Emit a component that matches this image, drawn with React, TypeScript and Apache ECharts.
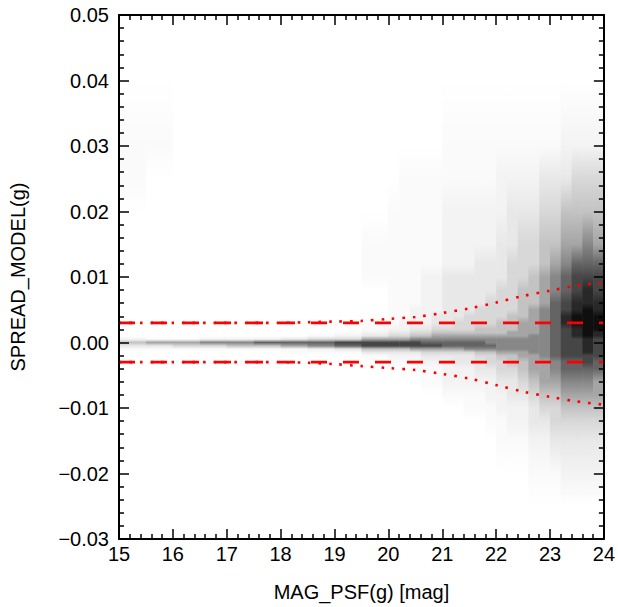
import React, { useEffect, useRef } from "react";
import * as echarts from "echarts";

// ---- data ----
// magnitude bin edges of the density columns
const MAG_EDGES = [
  15.0, 15.5, 16.0, 16.5, 17.0, 17.5, 18.0, 18.5, 19.0, 19.5, 20.0, 20.2, 20.4,
  20.6, 20.8, 21.0, 21.2, 21.4, 21.6, 21.8, 22.0, 22.2, 22.4, 22.6, 22.8, 23.0,
  23.2, 23.4, 23.6, 23.8, 24.0,
];

// SPREAD_MODEL nodes at which each column's density is sampled
const SPREAD_NODES = [
  -0.03, -0.025, -0.02, -0.015, -0.012, -0.01, -0.008, -0.006,
  -0.004, -0.003, -0.002, -0.0015, -0.001, -0.0005,
  0,
  0.0005, 0.001, 0.0015, 0.002, 0.003, 0.004, 0.005, 0.006,
  0.008, 0.01, 0.012, 0.015, 0.02, 0.025, 0.03, 0.04, 0.05,
];

// density level (0 = empty .. b = darkest) per column, one character per node
const DENSITY_COLUMNS = [
  "00000000 000013 5 20000000 000001100",
  "00000000 000013 6 10000000 000000100",
  "00000000 000014 6 10000000 000000000",
  "00000000 000014 7 20000000 000000000",
  "00000000 000015 7 20000000 000000000",
  "00000000 000015 8 20000000 000000000",
  "00000000 000116 8 30000000 000000000",
  "00000000 000127 8 41000000 000000000",
  "00000000 000138 9 42100000 000000000",
  "00000000 001359 9 63211000 011100000",
  "00000000 012359 9 64321111 111110000",
  "00000000 012359 9 64322111 111111000",
  "00000000 112369 9 75432221 111111000",
  "00000001 123469 8 75432222 221111000",
  "00000001 123469 8 76543322 221111000",
  "00000012 223468 8 76543333 332221100",
  "00000012 233468 8 76544333 332221100",
  "00000112 233478 8 76544433 332221100",
  "00000112 334578 8 76554443 333221100",
  "00001122 344578 7 76554444 333221100",
  "00011223 445677 7 76555444 433322100",
  "00012233 455677 7 76655544 444332100",
  "00012234 556677 7 76666555 544432100",
  "00123345 666777 7 77666665 554432100",
  "00123456 667777 7 77777776 665543100",
  "00134456 778888 8 88888888 776543100",
  "00234567 889999 9 9999aa99 887653200",
  "00234567 889999 9 9aaabbaa 998654200",
  "00234567 899aaa a abbbbbba a98754200",
  "00234566 889999 9 9aabbbaa 998654200",
];

// grey value for each density level 0..b
const GRAY_LEVELS = [255, 250, 243, 232, 216, 195, 165, 135, 100, 70, 40, 15];

// constant cut and magnitude-dependent envelope
const CUT_MAGS = [15, 24];
const CUT_VALUE = 0.003;
const CURVE_MAGS = [15, 16, 17, 18, 18.5, 19, 19.5, 20, 20.5, 21, 21.5, 22, 22.5, 23, 23.5, 24];
const CURVE_UPPER = [0.003, 0.003, 0.003, 0.003, 0.0031, 0.0032, 0.0033, 0.0036, 0.0039, 0.0045, 0.0052, 0.0061, 0.0071, 0.0079, 0.0087, 0.0091];
const CURVE_LOWER = [-0.003, -0.003, -0.003, -0.003, -0.0031, -0.0033, -0.0036, -0.0039, -0.0042, -0.0048, -0.0055, -0.0065, -0.0075, -0.0083, -0.009, -0.0095];

const X_MIN = 15, X_MAX = 24, X_STEP = 1;
const Y_MIN = -0.03, Y_MAX = 0.05, Y_STEP = 0.01;

const FONT = "'Liberation Sans', Arial, Helvetica, sans-serif";

function grayOf(d: number) {
  const g = GRAY_LEVELS[d];
  return `rgb(${g},${g},${g})`;
}

export default function App() {
  const ref = useRef<HTMLDivElement | null>(null);

  useEffect(() => {
    document.body.style.margin = "0";
    if (!ref.current) return;
    const chart = echarts.init(ref.current, undefined, { renderer: "svg" });

    const profiles = DENSITY_COLUMNS.map((s) =>
      s.replace(/\s+/g, "").split("").map((c) => parseInt(c, 16))
    );
    const columnData = profiles.map((_, i) => [MAG_EDGES[i], MAG_EDGES[i + 1], i]);

    const axisLine = { show: true, onZero: false, lineStyle: { color: "#000", width: 2 } };
    const axisTick = { show: true, inside: true, length: 10, lineStyle: { color: "#000", width: 1.5 } };
    const minorTick = { show: true, splitNumber: 5, length: 5, lineStyle: { color: "#000", width: 1.5 } };
    const labelStyle = { color: "#000", fontSize: 20, fontFamily: FONT };

    const yFmt = (v: number) => {
      const s = Math.abs(v) < 1e-9 ? "0.00" : v.toFixed(2);
      return s.replace("-", "\u2212");
    };

    const option: any = {
      animation: false,
      backgroundColor: "#fff",
      grid: { left: 119, right: 13, top: 15, bottom: 65, containLabel: false },
      xAxis: [
        {
          type: "value", min: X_MIN, max: X_MAX, interval: X_STEP, position: "bottom", z: 10,
          axisLine, axisTick, minorTick,
          splitLine: { show: false }, minorSplitLine: { show: false },
          axisLabel: { ...labelStyle, margin: 5 },
          name: "MAG_PSF(g) [mag]", nameLocation: "middle", nameGap: 43,
          nameTextStyle: labelStyle,
        },
        {
          type: "value", min: X_MIN, max: X_MAX, interval: X_STEP, position: "top", z: 10,
          axisLine, axisTick, minorTick,
          splitLine: { show: false }, minorSplitLine: { show: false },
          axisLabel: { show: false },
        },
      ],
      yAxis: [
        {
          type: "value", min: Y_MIN, max: Y_MAX, interval: Y_STEP, position: "left", z: 10,
          axisLine, axisTick, minorTick,
          splitLine: { show: false }, minorSplitLine: { show: false },
          axisLabel: { ...labelStyle, margin: 10, formatter: yFmt },
          name: "SPREAD_MODEL(g)", nameLocation: "middle", nameGap: 91, nameRotate: 90,
          nameTextStyle: labelStyle,
        },
        {
          type: "value", min: Y_MIN, max: Y_MAX, interval: Y_STEP, position: "right", z: 10,
          axisLine, axisTick, minorTick,
          splitLine: { show: false }, minorSplitLine: { show: false },
          axisLabel: { show: false },
        },
      ],
      series: [
        {
          type: "custom",
          xAxisIndex: 0, yAxisIndex: 0,
          silent: true, z: 1, clip: true,
          data: columnData,
          renderItem: (_params: any, api: any) => {
            const x0 = api.value(0);
            const x1 = api.value(1);
            const idx = api.value(2);
            const prof = profiles[idx];
            const pTop = api.coord([x0, Y_MAX]);
            const pBot = api.coord([x1, Y_MIN]);
            const h = pBot[1] - pTop[1];
            const stops = SPREAD_NODES.map((n, k) => {
              const py = api.coord([x0, n])[1];
              return { offset: Math.min(1, Math.max(0, (py - pTop[1]) / h)), color: grayOf(prof[k]) };
            }).reverse();
            return {
              type: "rect",
              shape: { x: pTop[0], y: pTop[1], width: pBot[0] - pTop[0] + 0.6, height: h },
              style: { fill: new echarts.graphic.LinearGradient(0, 0, 0, 1, stops) },
            };
          },
        },
        {
          type: "line", silent: true, z: 3, symbol: "none",
          data: CUT_MAGS.map((m) => [m, CUT_VALUE]),
          lineStyle: { color: "#ff0000", width: 2.6, type: [16, 16] },
        },
        {
          type: "line", silent: true, z: 3, symbol: "none",
          data: CUT_MAGS.map((m) => [m, -CUT_VALUE]),
          lineStyle: { color: "#ff0000", width: 2.6, type: [16, 16] },
        },
        {
          type: "line", silent: true, z: 4, symbol: "none", smooth: 0.3,
          data: CURVE_MAGS.map((m, i) => [m, CURVE_UPPER[i]]),
          lineStyle: { color: "#ff0000", width: 2.6, type: [2.6, 7.9] },
        },
        {
          type: "line", silent: true, z: 4, symbol: "none", smooth: 0.3,
          data: CURVE_MAGS.map((m, i) => [m, CURVE_LOWER[i]]),
          lineStyle: { color: "#ff0000", width: 2.6, type: [2.6, 7.9] },
        },
      ],
    };

    chart.setOption(option);
    return () => {
      chart.dispose();
    };
  }, []);

  return <div ref={ref} style={{ width: 618, height: 607 }} />;
}
